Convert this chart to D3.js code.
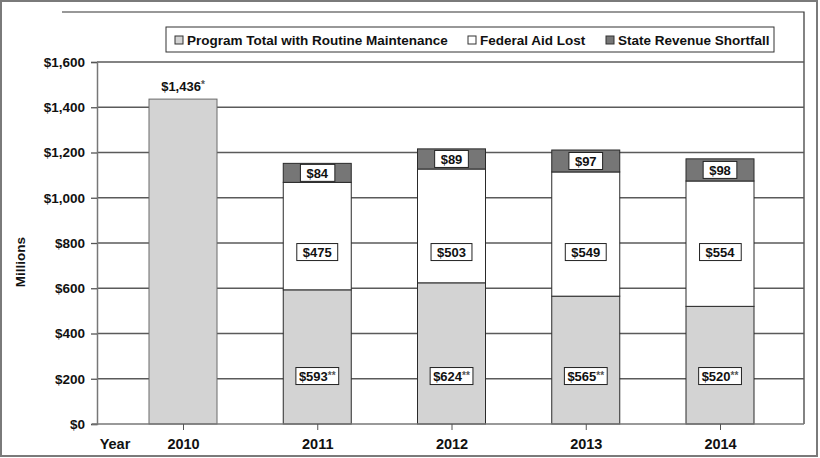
<!DOCTYPE html>
<html>
<head>
<meta charset="utf-8">
<script src="https://cdn.jsdelivr.net/npm/d3@7"></script>
<style>
  body { margin: 0; background: #fff; }
  svg text { font-family: Arial, "Liberation Sans", sans-serif; font-weight: bold; }
</style>
</head>
<body>
<svg id="chart"></svg>
<script>
// data (millions of dollars)
const years = ["2010", "2011", "2012", "2013", "2014"];
const programTotal = [1436, 593, 624, 565, 520];
const federalAidLost = [0, 475, 503, 549, 554];
const stateShortfall = [0, 84, 89, 97, 98];
const yTicks = [0, 200, 400, 600, 800, 1000, 1200, 1400, 1600];
const seriesNames = ["Program Total with Routine Maintenance", "Federal Aid Lost", "State Revenue Shortfall"];
const seriesKeys = ["program", "federal", "state"];

const dimensions = {
    width: 820,
    height: 458,
    plot: { left: 97, right: 804, top: 12, bottom: 424 },
    barWidth: 68
};

const colors = { program: "#d3d3d3", federal: "#ffffff", state: "#767676" };

const svg = d3.select("#chart")
    .attr("width", dimensions.width)
    .attr("height", dimensions.height);

// outer frame
svg.append("rect")
    .attr("x", 1).attr("y", 1)
    .attr("width", dimensions.width - 4)
    .attr("height", dimensions.height - 3)
    .attr("fill", "#fff")
    .attr("stroke", "#7a7a7a")
    .attr("stroke-width", 2);

const xScale = d3.scalePoint()
    .domain(years)
    .range([183, 720]);

const yScale = d3.scaleLinear()
    .domain([0, 1600])
    .range([dimensions.plot.bottom, 62]);

// plot border (top and right)
svg.append("path")
    .attr("d", `M62,${dimensions.plot.top}H${dimensions.plot.right}V${dimensions.plot.bottom}`)
    .attr("fill", "none")
    .attr("stroke", "#333")
    .attr("stroke-width", 1.2);

// gridlines
svg.append("g")
    .selectAll("line")
    .data(yTicks.filter(d => d > 0))
    .enter().append("line")
    .attr("x1", dimensions.plot.left)
    .attr("x2", dimensions.plot.right)
    .attr("y1", d => yScale(d))
    .attr("y2", d => yScale(d))
    .attr("stroke", "#5a5a5a")
    .attr("stroke-width", 1.3);

// y axis
const yAxis = svg.append("g")
    .attr("transform", `translate(${dimensions.plot.left},0)`)
    .call(d3.axisLeft(yScale).tickValues(yTicks).tickSize(6).tickPadding(6)
        .tickFormat(d => "$" + d3.format(",")(d)));
yAxis.select(".domain").attr("stroke", "#777").attr("stroke-width", 1.5);
yAxis.selectAll(".tick line").attr("stroke", "#555").attr("stroke-width", 1.3);
yAxis.selectAll("text").attr("font-size", 13.5).attr("fill", "#111");

svg.append("text")
    .attr("transform", "rotate(-90)")
    .attr("x", -262)
    .attr("y", 25)
    .attr("text-anchor", "middle")
    .attr("font-size", 13.5)
    .attr("fill", "#111")
    .text("Millions");

// stacked bars
const table = years.map((y, i) => ({
    year: y,
    program: programTotal[i],
    federal: federalAidLost[i],
    state: stateShortfall[i]
}));

const stacked = d3.stack().keys(seriesKeys)(table);

svg.append("g")
    .selectAll("g")
    .data(stacked)
    .enter().append("g")
    .attr("fill", d => colors[d.key])
    .selectAll("rect")
    .data(d => d.filter(p => p[1] > p[0]))
    .enter().append("rect")
    .attr("x", d => xScale(d.data.year) - dimensions.barWidth / 2)
    .attr("y", d => yScale(d[1]))
    .attr("width", dimensions.barWidth)
    .attr("height", d => yScale(d[0]) - yScale(d[1]))
    .attr("stroke", d => d.data.year === "2010" ? "#6a6a6a" : "#2a2a2a")
    .attr("stroke-width", 1);

// x axis
const xAxis = svg.append("g")
    .attr("transform", `translate(0,${dimensions.plot.bottom})`)
    .call(d3.axisBottom(xScale).tickSize(6).tickPadding(9));
xAxis.select(".domain")
    .attr("d", `M${dimensions.plot.left - 5},0H${dimensions.plot.right}`)
    .attr("stroke", "#777").attr("stroke-width", 1.5);
xAxis.selectAll(".tick line").attr("stroke", "#555");
xAxis.selectAll("text").attr("font-size", 14.5).attr("fill", "#111");

svg.append("text")
    .attr("x", 115)
    .attr("y", 449)
    .attr("text-anchor", "middle")
    .attr("font-size", 14.5)
    .attr("fill", "#111")
    .text("Year");

// boxed value labels
function boxedLabel(g, x, y, value, stars) {
    const label = g.append("g").attr("transform", `translate(${x},${y})`);
    const t = label.append("text")
        .attr("text-anchor", "middle")
        .attr("dy", "0.36em")
        .attr("font-size", 13)
        .attr("fill", "#111");
    t.append("tspan").text("$" + d3.format(",")(value));
    if (stars) {
        t.append("tspan").attr("font-size", 10).attr("dy", "-0.2em").attr("fill", "#555").text(stars);
    }
    const bb = t.node().getBBox();
    const padding = stars ? 3 : 6;
    label.insert("rect", "text")
        .attr("x", bb.x - padding)
        .attr("y", -8.5)
        .attr("width", bb.width + padding * 2)
        .attr("height", 17)
        .attr("fill", "#fff")
        .attr("stroke", "#222")
        .attr("stroke-width", 1);
}

const labels = svg.append("g");
table.forEach(d => {
    const x = xScale(d.year);
    if (d.year === "2010") {
        const t = labels.append("text")
            .attr("x", x)
            .attr("y", yScale(d.program) - 8)
            .attr("text-anchor", "middle")
            .attr("font-size", 13)
            .attr("fill", "#111");
        t.append("tspan").text("$" + d3.format(",")(d.program));
        t.append("tspan").attr("font-size", 10).attr("dy", "-0.3em").attr("fill", "#555").text("*");
        return;
    }
    boxedLabel(labels, x, yScale(212), d.program, "**");
    boxedLabel(labels, x, yScale(760), d.federal, "");
    boxedLabel(labels, x, yScale(d.program + d.federal + d.state / 2), d.state, "");
});

// legend
const legend = svg.append("g");
legend.append("rect")
    .attr("x", 166).attr("y", 27)
    .attr("width", 608).attr("height", 25)
    .attr("fill", "#fff")
    .attr("stroke", "#333")
    .attr("stroke-width", 1);

const legendX = [175, 468, 606];
const items = legend.selectAll(".legend")
    .data(seriesKeys)
    .enter().append("g")
    .attr("class", "legend")
    .attr("transform", (d, i) => `translate(${legendX[i]},40)`);

items.append("rect")
    .attr("x", 0).attr("y", -4)
    .attr("width", 8).attr("height", 8)
    .attr("fill", d => colors[d])
    .attr("stroke", "#333");

items.append("text")
    .attr("x", 12)
    .attr("dy", "0.36em")
    .attr("font-size", 13.5)
    .attr("fill", "#111")
    .text((d, i) => seriesNames[i]);
</script>
</body>
</html>
